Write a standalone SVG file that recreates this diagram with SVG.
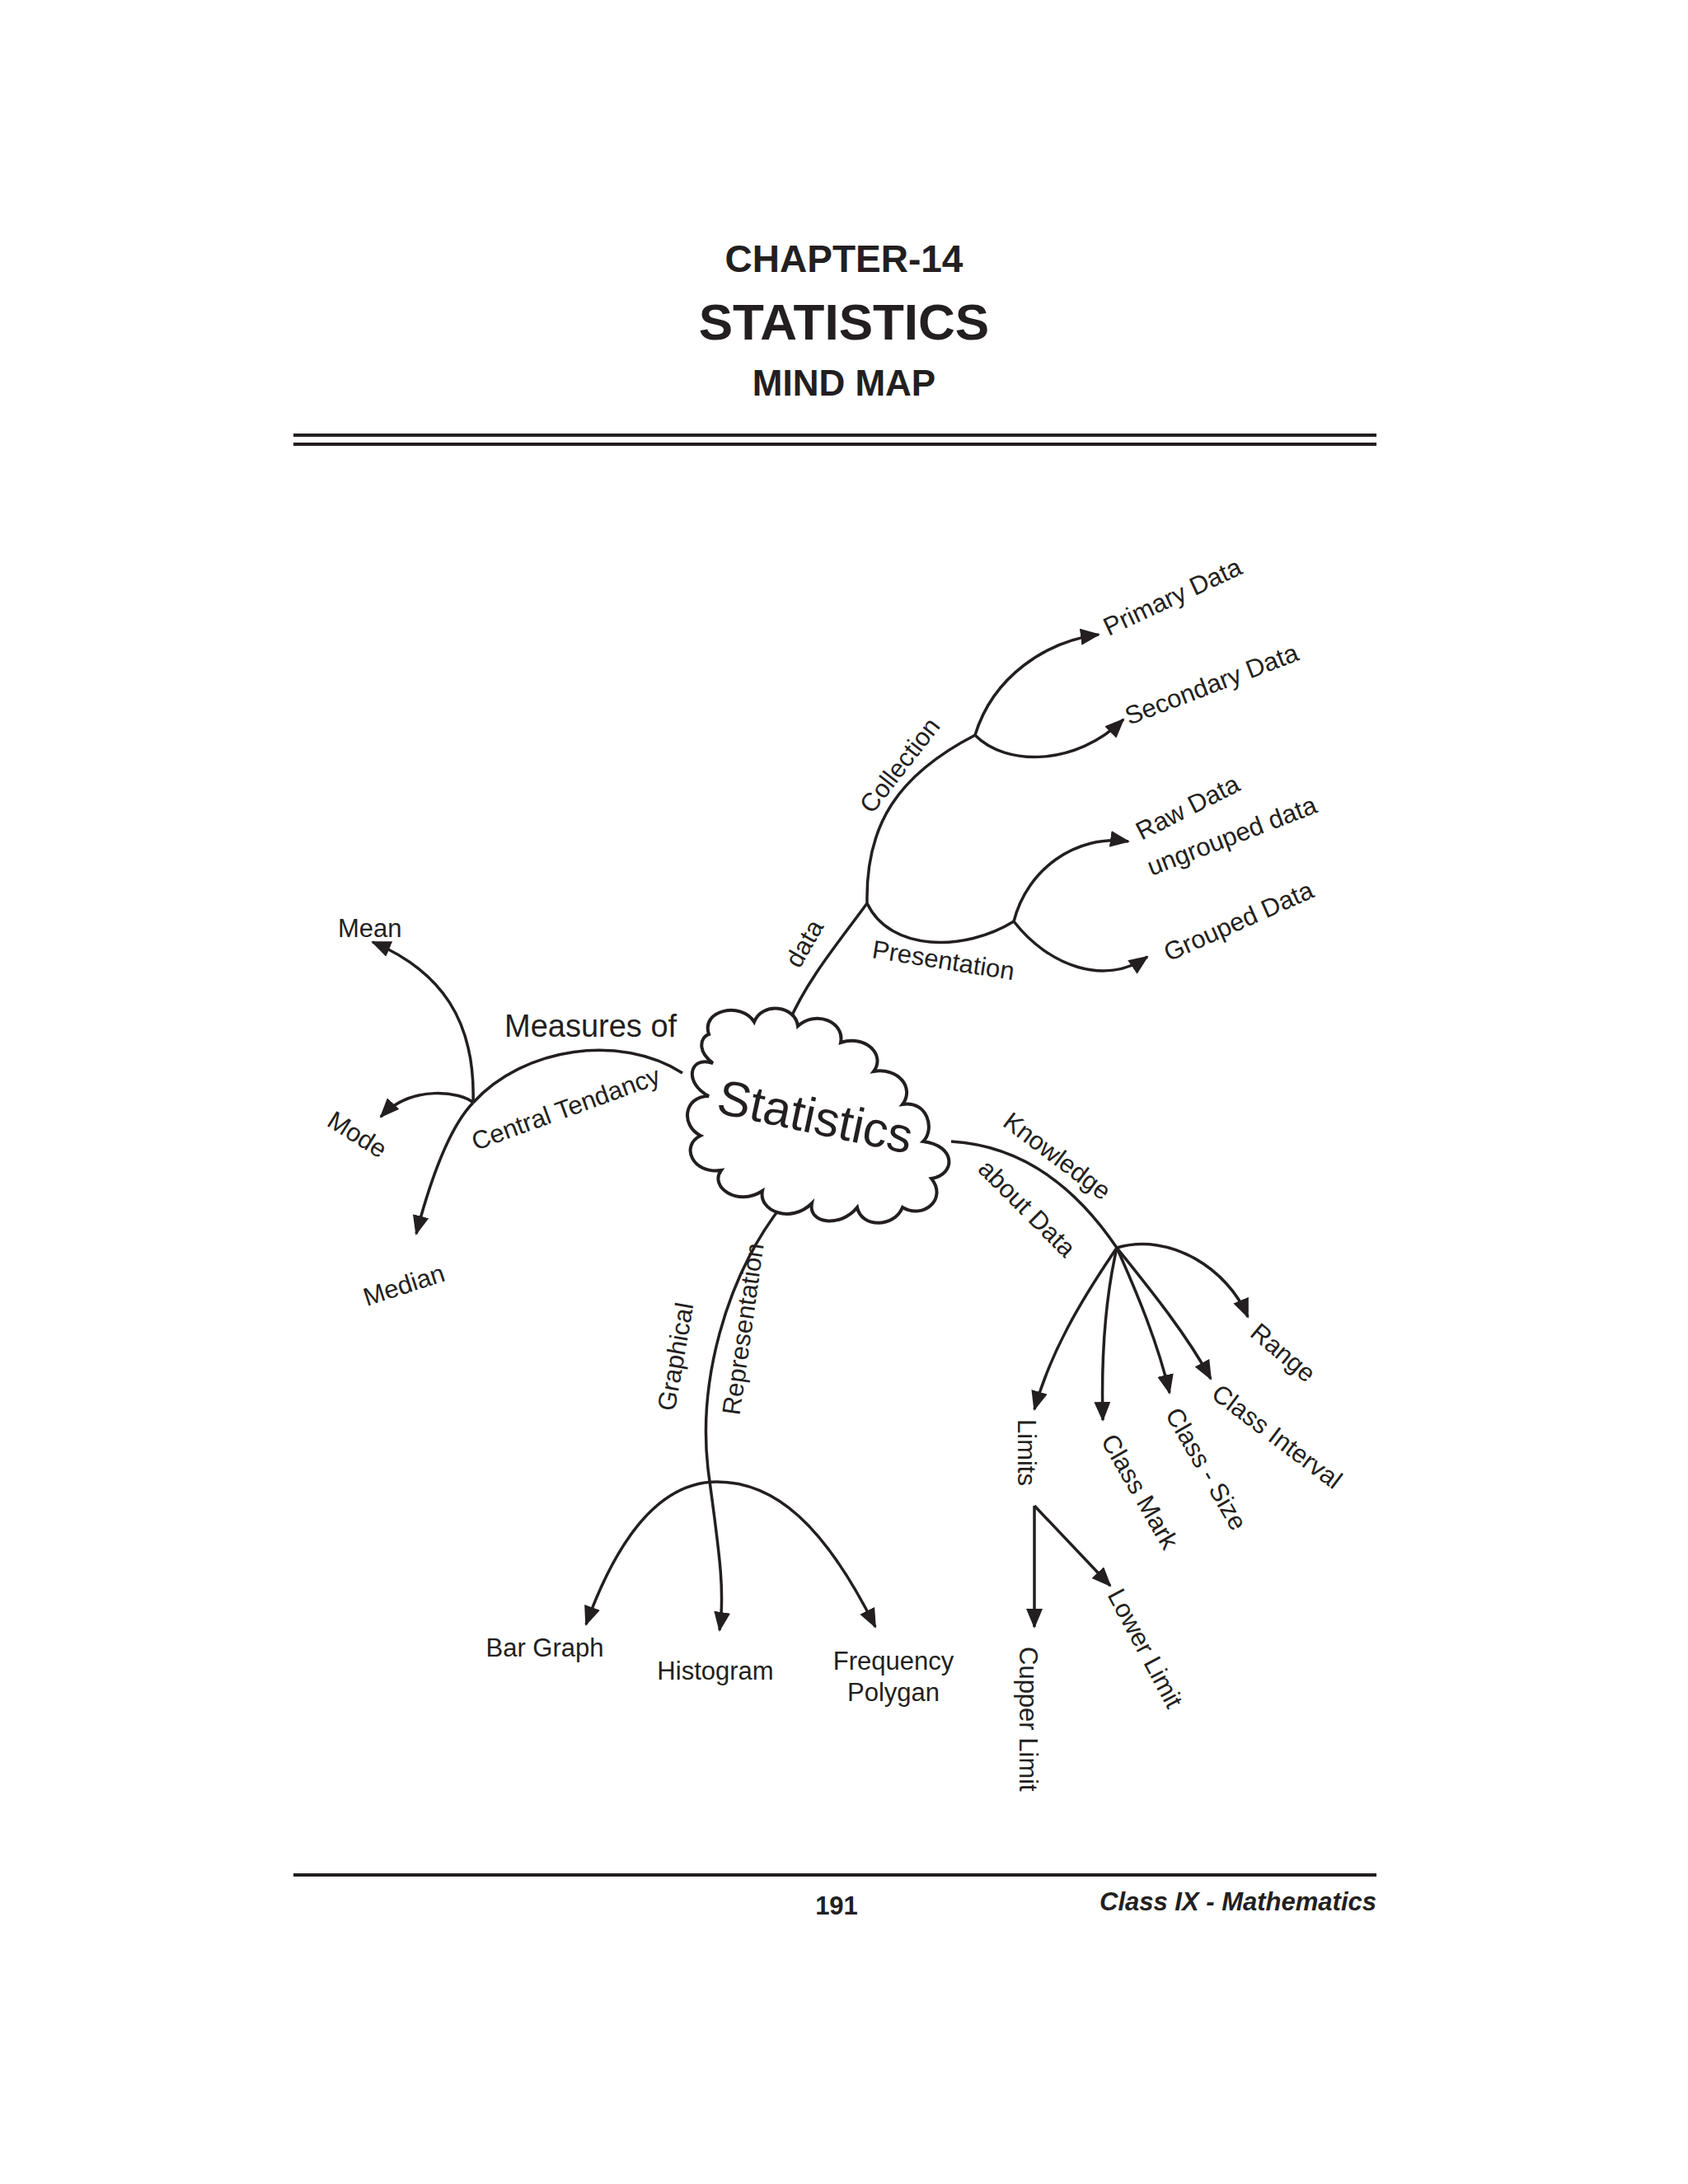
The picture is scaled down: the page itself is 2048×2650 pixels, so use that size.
<svg xmlns="http://www.w3.org/2000/svg" width="2048" height="2650" viewBox="0 0 2048 2650">
<style>
.t{font-family:"Liberation Sans",Arial,sans-serif;fill:#231f20}
.h{font-weight:bold;text-anchor:middle}
.l{font-size:31px}
.c{fill:none;stroke:#231f20;stroke-width:3.5}
</style>
<defs>
<marker id="a" markerUnits="userSpaceOnUse" markerWidth="30" markerHeight="24" refX="22" refY="10" orient="auto">
<path d="M0,0 L24,10 L0,20 Z" fill="#231f20"/>
</marker>
</defs>
<rect width="2048" height="2650" fill="#fff"/>
<g id="header">
<text class="t h" x="1024" y="330" font-size="46">CHAPTER-14</text>
<text class="t h" x="1024" y="412" font-size="62">STATISTICS</text>
<text class="t h" x="1024" y="480" font-size="44">MIND MAP</text>
<line x1="356" y1="528" x2="1670" y2="528" stroke="#231f20" stroke-width="4"/>
<line x1="356" y1="539" x2="1670" y2="539" stroke="#231f20" stroke-width="4"/>
</g>
<g id="footer">
<line x1="356" y1="2275" x2="1670" y2="2275" stroke="#231f20" stroke-width="4"/>
<text class="t h" x="1015" y="2323" font-size="31">191</text>
<text class="t" x="1670" y="2318" font-size="31" font-weight="bold" font-style="italic" text-anchor="end">Class IX - Mathematics</text>
</g>
<g id="connectors">
<path class="c" d="M957 1241 C978 1190 1020 1140 1052 1096"/>
<path class="c" d="M1052 1096 C1050 1000 1090 940 1183 892"/>
<path class="c" d="M1183 892 C1205 820 1270 778 1333 770" marker-end="url(#a)"/>
<path class="c" d="M1183 892 C1220 930 1305 930 1363 873" marker-end="url(#a)"/>
<path class="c" d="M1052 1096 C1080 1155 1170 1155 1230 1118"/>
<path class="c" d="M1230 1118 C1246 1055 1305 1012 1369 1021" marker-end="url(#a)"/>
<path class="c" d="M1230 1118 C1272 1172 1340 1197 1392 1161" marker-end="url(#a)"/>
<path class="c" d="M828 1302 C753 1254 636 1270 574 1338"/>
<path class="c" d="M574 1338 C577 1238 535 1178 452 1143" marker-end="url(#a)"/>
<path class="c" d="M574 1338 C560 1325 500 1315 462 1355" marker-end="url(#a)"/>
<path class="c" d="M574 1338 C543 1370 520 1440 505 1497" marker-end="url(#a)"/>
<path class="c" d="M1154 1385 C1240 1390 1305 1440 1355 1514"/>
<path class="c" d="M1355 1514 C1420 1495 1490 1540 1514 1598" marker-end="url(#a)"/>
<path class="c" d="M1355 1514 C1400 1570 1440 1620 1469 1673" marker-end="url(#a)"/>
<path class="c" d="M1355 1514 C1380 1570 1405 1630 1419 1690" marker-end="url(#a)"/>
<path class="c" d="M1355 1514 C1340 1580 1336 1650 1338 1723" marker-end="url(#a)"/>
<path class="c" d="M1355 1514 C1310 1580 1275 1640 1255 1710" marker-end="url(#a)"/>
<path class="c" d="M1255 1827 L1255 1974" marker-end="url(#a)"/>
<path class="c" d="M1255 1827 L1347 1924" marker-end="url(#a)"/>
<path class="c" d="M950 1461 C880 1550 845 1680 860 1790 C872 1880 880 1930 873 1978" marker-end="url(#a)"/>
<path class="c" d="M870 1798 C810 1798 755 1850 711 1971" marker-end="url(#a)"/>
<path class="c" d="M870 1798 C940 1798 1000 1850 1062 1974" marker-end="url(#a)"/>
</g>
<g id="statistics">
<path d="M860 1255 C850 1225 900 1215 915 1240 C925 1215 965 1220 968 1245 C990 1225 1025 1240 1020 1265 C1050 1255 1075 1280 1060 1300 C1090 1295 1110 1320 1095 1340 C1125 1335 1135 1370 1120 1385 C1160 1390 1160 1425 1130 1430 C1150 1455 1120 1480 1095 1465 C1085 1490 1045 1490 1040 1465 C1020 1490 980 1485 985 1460 C960 1485 920 1470 925 1445 C895 1465 860 1440 875 1420 C840 1425 825 1390 850 1378 C825 1365 830 1330 860 1330 C830 1315 835 1280 865 1290 C845 1275 850 1258 860 1255 Z" fill="#fff" stroke="#231f20" stroke-width="4"/>
<text class="t" x="985" y="1375" font-size="60" text-anchor="middle" transform="rotate(12 985 1375)">Statistics</text>
</g>
<g id="data"><text class="t l" x="0" y="0" text-anchor="middle" transform="translate(985 1150) rotate(-60)">data</text></g>
<g id="collection"><text class="t l" x="0" y="0" text-anchor="middle" transform="translate(1100 935) rotate(-52)">Collection</text></g>
<g id="primary"><text class="t l" x="0" y="0" transform="translate(1345 772) rotate(-25)">Primary Data</text></g>
<g id="secondary"><text class="t l" x="0" y="0" transform="translate(1370 880) rotate(-21)">Secondary Data</text></g>
<g id="presentation"><text class="t l" x="0" y="0" transform="translate(1057 1162) rotate(9)">Presentation</text></g>
<g id="raw"><text class="t l" x="0" y="0" transform="translate(1385 1020) rotate(-27)">Raw Data</text>
<text class="t l" x="0" y="0" transform="translate(1397 1063) rotate(-21)">ungrouped data</text></g>
<g id="grouped"><text class="t l" x="0" y="0" transform="translate(1418 1167) rotate(-24)">Grouped Data</text></g>
<g id="measures"><text class="t" x="612" y="1258" font-size="38">Measures of</text>
<text class="t l" x="0" y="0" text-anchor="middle" transform="translate(690 1355) rotate(-20)">Central Tendancy</text></g>
<g id="mean"><text class="t l" x="410" y="1137">Mean</text></g>
<g id="mode"><text class="t l" x="0" y="0" transform="translate(395 1365) rotate(32)">Mode</text></g>
<g id="median"><text class="t l" x="0" y="0" transform="translate(445 1585) rotate(-18)">Median</text></g>
<g id="knowledge"><text class="t l" x="0" y="0" transform="translate(1215 1365) rotate(37)">Knowledge</text>
<text class="t l" x="0" y="0" transform="translate(1185 1420) rotate(45)">about Data</text></g>
<g id="range"><text class="t l" x="0" y="0" transform="translate(1515 1620) rotate(40)">Range</text></g>
<g id="interval"><text class="t l" x="0" y="0" transform="translate(1468 1695) rotate(37)">Class Interval</text></g>
<g id="size"><text class="t l" x="0" y="0" transform="translate(1413 1716) rotate(60)">Class - Size</text></g>
<g id="mark"><text class="t l" x="0" y="0" transform="translate(1335 1748) rotate(60)">Class Mark</text></g>
<g id="limits"><text class="t l" x="0" y="0" transform="translate(1235 1722) rotate(90)">Limits</text></g>
<g id="cupper"><text class="t l" x="0" y="0" transform="translate(1237 1998) rotate(90)">Cupper Limit</text></g>
<g id="lower"><text class="t l" x="0" y="0" transform="translate(1343 1935) rotate(62)">Lower Limit</text></g>
<g id="graphical"><text class="t l" x="0" y="0" text-anchor="middle" transform="translate(830 1648) rotate(-80)">Graphical</text>
<text class="t l" x="0" y="0" text-anchor="middle" transform="translate(912 1614) rotate(-82)">Representation</text></g>
<g id="bargraph"><text class="t l" x="661" y="2010" text-anchor="middle">Bar Graph</text></g>
<g id="histogram"><text class="t l" x="868" y="2038" text-anchor="middle">Histogram</text></g>
<g id="frequency"><text class="t l" x="1084" y="2026" text-anchor="middle">Frequency</text>
<text class="t l" x="1084" y="2064" text-anchor="middle">Polygan</text></g>
</svg>
